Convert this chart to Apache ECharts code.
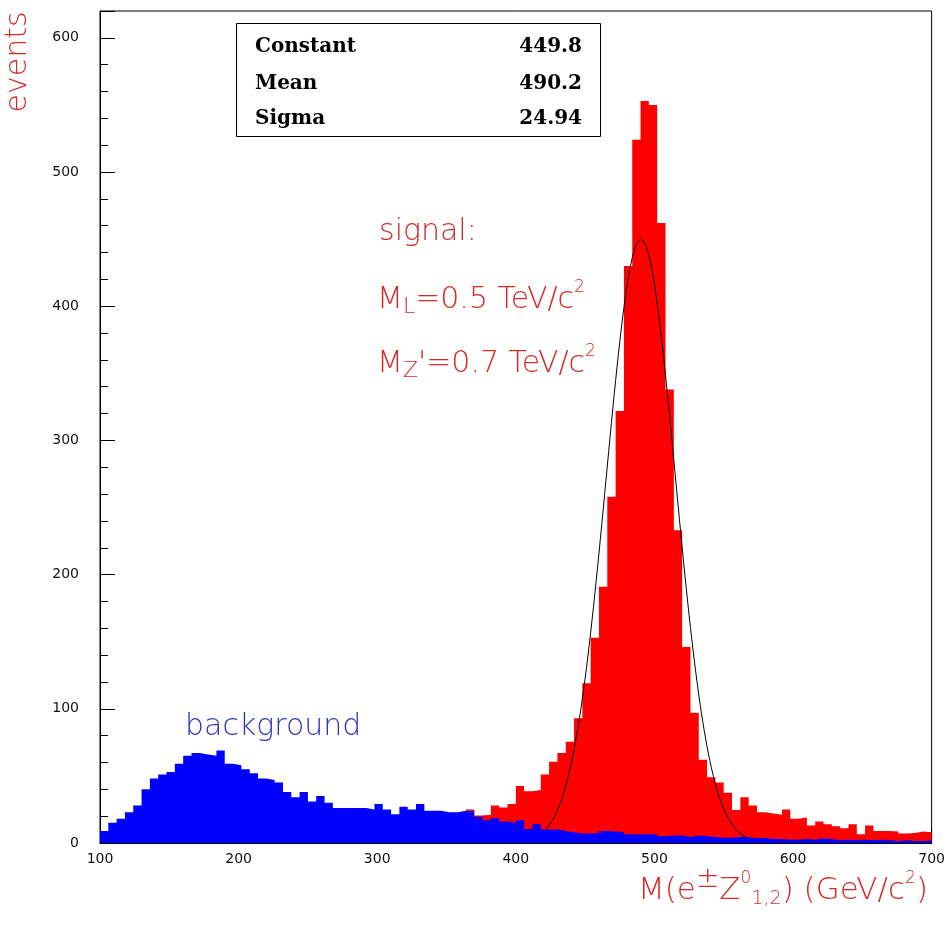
<!DOCTYPE html>
<html>
<head>
<meta charset="utf-8">
<script src="https://cdn.jsdelivr.net/npm/echarts@6/dist/echarts.min.js"></script>
<style>
  html, body { margin: 0; padding: 0; background: #ffffff; }
  #chart { width: 948px; height: 925px; }
</style>
</head>
<body>
<div id="chart"></div>
<script>
// Histogram binning: 100 bins of 6 GeV/c^2 from 100 to 700
const BIN_START = 100;
const BIN_WIDTH = 6;

// Background events per bin (bins 0..99)
const backgroundCounts = [
  9, 15, 18, 23, 28, 40, 48, 51, 53, 59,
  65, 67, 66, 65, 69, 59, 58, 55, 52, 48,
  47, 45, 38, 34, 38, 31, 35, 30, 26, 26,
  26, 26, 25, 29, 25, 21.5, 27, 25, 29, 24,
  24, 23, 23, 24, 23.5, 19.5, 17, 18.5, 16, 15,
  17, 10.5, 14, 10, 10, 9, 8, 7, 7, 7.5,
  9, 8.5, 8, 6.5, 6.5, 6.5, 6.5, 5, 5.5, 5.5,
  4.5, 5.5, 5, 4.5, 4, 4, 4.5, 4.5, 3.5, 4,
  3, 3, 2.5, 2.5, 3, 2.5, 3.5, 3, 2, 2.5,
  2, 2.5, 2, 2.5, 2, 1.5, 2, 1.5, 1.5, 2
];

// Signal events per bin, starting at bin 44 (x = 364)
const SIGNAL_FIRST_BIN = 44;
const signalCounts = [
  25, 20.5, 21, 28, 26.5, 29,
  42.5, 38.5, 39.5, 51, 60.5, 67, 75.5, 93, 119, 153,
  191, 258, 322, 430, 524, 553, 550, 462, 338, 233,
  146, 97, 62, 49, 45, 37.5, 24.5, 34, 28, 23,
  22, 21, 25, 18, 19, 13, 16, 14, 12.5, 11,
  14, 6.5, 13, 9, 9, 8.5, 7, 7.5, 8.5, 8
];

// Gaussian fit of the signal peak
const fitNames = ['Constant', 'Mean', 'Sigma'];
const fitValues = [449.8, 490.2, 24.94];
const fitRange = [422, 568];

// Axis ticks
const xTicks = [100, 200, 300, 400, 500, 600, 700];
const yTicks = [0, 100, 200, 300, 400, 500, 600];
const Y_TOP = 620;
const MINOR_STEP = 20;

// Step outline of a histogram: one point at each left bin edge plus the final right edge
function stepPoints(counts, firstBin) {
  const pts = counts.map((c, i) => [BIN_START + (firstBin + i) * BIN_WIDTH, c]);
  pts.push([BIN_START + (firstBin + counts.length) * BIN_WIDTH, counts[counts.length - 1]]);
  return pts;
}

function fitCurve() {
  const [c, m, s] = fitValues;
  const pts = [];
  for (let x = fitRange[0]; x <= fitRange[1]; x += 1) {
    pts.push([x, c * Math.exp(-0.5 * Math.pow((x - m) / s, 2))]);
  }
  return pts;
}

function histSeries(name, counts, firstBin, color) {
  return {
    name: name,
    type: 'line',
    step: 'end',
    data: stepPoints(counts, firstBin),
    showSymbol: false,
    symbol: 'none',
    lineStyle: { width: 0, color: color },
    areaStyle: { color: color, opacity: 1 },
    silent: true,
    animation: false
  };
}

const RED_TEXT = '#d42a2a';
const LABEL_FAMILY = '"DejaVu Sans"';
const LABEL_WEIGHT = 200;
const tickFont = { fontFamily: 'DejaVu Sans', fontSize: 14, color: '#111111' };

const chart = echarts.init(document.getElementById('chart'), null, { renderer: 'canvas' });

const statRows = [];
fitNames.forEach((name, i) => {
  const y = [47, 84, 119][i];
  statRows.push({
    type: 'text', x: 255, y: y, silent: true, z: 11,
    style: { text: name, font: 'bold 20px "DejaVu Serif"', fill: '#000', align: 'left', verticalAlign: 'middle' }
  });
  statRows.push({
    type: 'text', x: 582, y: y, silent: true, z: 11,
    style: { text: String(fitValues[i]), font: 'bold 20px "DejaVu Serif"', fill: '#000', align: 'right', verticalAlign: 'middle' }
  });
});

function richSet(base) {
  const f = { fontFamily: 'DejaVu Sans', fontWeight: LABEL_WEIGHT, fill: RED_TEXT };
  return {
    m: Object.assign({ fontSize: base }, f),
    sub: Object.assign({ fontSize: Math.round(base * 0.72), padding: [Math.round(base * 0.45), 0, 0, 0] }, f),
    sup: Object.assign({ fontSize: Math.round(base * 0.55), padding: [0, 0, Math.round(base * 0.8), 0] }, f),
    pm: Object.assign({ fontSize: Math.round(base * 0.9), padding: [0, 0, Math.round(base * 0.7), 0] }, f),
    sub2: Object.assign({ fontSize: Math.round(base * 0.62), padding: [Math.round(base * 0.55), 0, 0, 0] }, f)
  };
}

const labelFont = LABEL_WEIGHT + ' 30px ' + LABEL_FAMILY;

chart.setOption({
  animation: false,
  backgroundColor: '#ffffff',
  grid: {
    left: 100, top: 11, width: 832, height: 832,
    show: true, borderColor: '#000000', borderWidth: 1, backgroundColor: 'transparent',
    containLabel: false
  },
  xAxis: [
    {
      type: 'value', min: xTicks[0], max: xTicks[xTicks.length - 1], interval: MINOR_STEP,
      position: 'bottom',
      axisLine: { show: true, lineStyle: { color: '#000', width: 1 } },
      axisTick: { show: true, inside: true, length: 8, lineStyle: { color: '#000' } },
      axisLabel: {
        show: true, margin: 9, ...tickFont,
        formatter: v => (xTicks.indexOf(v) >= 0 ? String(v) : '')
      },
      splitLine: { show: false }
    },
    {
      type: 'value', min: xTicks[0], max: xTicks[xTicks.length - 1], interval: 100,
      position: 'bottom',
      axisLine: { show: false },
      axisTick: { show: true, inside: true, length: 15, lineStyle: { color: '#000' } },
      axisLabel: { show: false },
      splitLine: { show: false }
    }
  ],
  yAxis: [
    {
      type: 'value', min: yTicks[0], max: Y_TOP, interval: MINOR_STEP,
      position: 'left',
      axisLine: { show: true, lineStyle: { color: '#000', width: 1 } },
      axisTick: { show: true, inside: true, length: 8, lineStyle: { color: '#000' } },
      axisLabel: {
        show: true, margin: 21, showMaxLabel: false, ...tickFont,
        formatter: v => (yTicks.indexOf(v) >= 0 ? String(v) : '')
      },
      splitLine: { show: false }
    },
    {
      type: 'value', min: yTicks[0], max: Y_TOP, interval: 100,
      position: 'left',
      axisLine: { show: false },
      axisTick: { show: true, inside: true, length: 15, lineStyle: { color: '#000' } },
      axisLabel: { show: false },
      splitLine: { show: false }
    }
  ],
  series: [
    histSeries('signal', signalCounts, SIGNAL_FIRST_BIN, '#ff0000'),
    histSeries('background', backgroundCounts, 0, '#0000ff'),
    {
      name: 'gaussian fit',
      type: 'line',
      data: fitCurve(),
      showSymbol: false,
      symbol: 'none',
      lineStyle: { color: '#000000', width: 1 },
      silent: true,
      animation: false,
      z: 5
    }
  ],
  graphic: [
    // fit statistics box
    {
      type: 'rect', silent: true, z: 10,
      shape: { x: 236.5, y: 23.5, width: 364, height: 113 },
      style: { fill: '#ffffff', stroke: '#000000', lineWidth: 1 }
    },
    ...statRows,
    // signal annotation
    {
      type: 'text', x: 379, y: 232, silent: true, z: 10,
      style: { text: 'signal:', font: labelFont, fill: RED_TEXT, align: 'left', verticalAlign: 'middle' }
    },
    {
      type: 'text', x: 377, y: 300, silent: true, z: 10,
      style: {
        text: '{m|M}{sub|L}{m|=0.5 TeV/c}{sup|2}',
        rich: richSet(30), align: 'left', verticalAlign: 'middle'
      }
    },
    {
      type: 'text', x: 377, y: 364, silent: true, z: 10,
      style: {
        text: "{m|M}{sub|Z}{m|'=0.7 TeV/c}{sup|2}",
        rich: richSet(30), align: 'left', verticalAlign: 'middle'
      }
    },
    {
      type: 'text', x: 185, y: 727, silent: true, z: 10,
      style: { text: 'background', font: labelFont, fill: '#3535b8', align: 'left', verticalAlign: 'middle' }
    },
    // axis titles
    {
      type: 'text', x: 638, y: 891, silent: true, z: 10,
      style: {
        text: '{m|M(e}{pm|±}{m|Z}{sup|0}{sub2|1,2}{m|) (GeV/c}{sup|2}{m|)}',
        rich: richSet(31), align: 'left', verticalAlign: 'middle'
      }
    },
    {
      type: 'text', x: 18, y: 62, rotation: Math.PI / 2, silent: true, z: 10,
      style: { text: 'events', font: labelFont, fill: RED_TEXT, align: 'center', verticalAlign: 'middle' }
    }
  ]
});
</script>
</body>
</html>
